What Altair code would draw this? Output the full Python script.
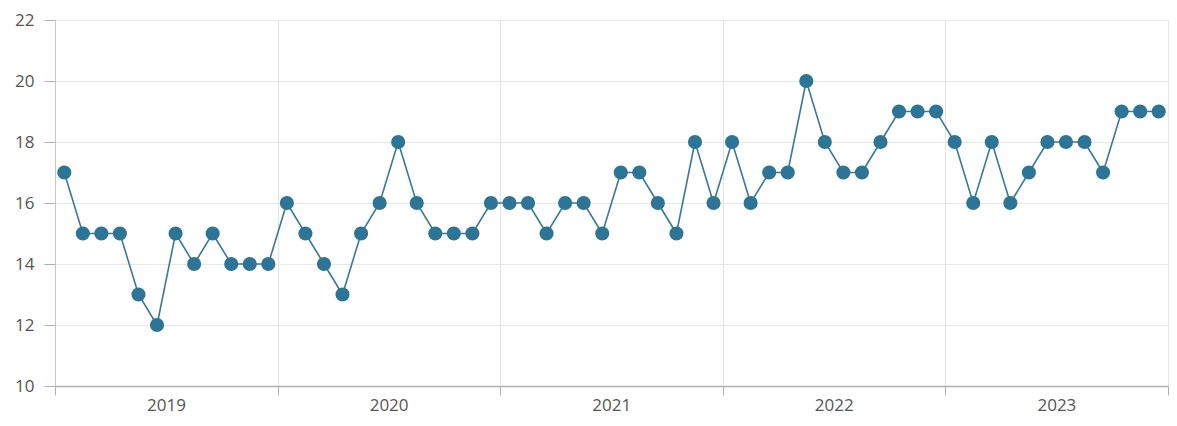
import altair as alt
import pandas as pd

years = [2019, 2020, 2021, 2022, 2023]
values_2019 = [17, 15, 15, 15, 13, 12, 15, 14, 15, 14, 14, 14]
values_2020 = [16, 15, 14, 13, 15, 16, 18, 16, 15, 15, 15, 16]
values_2021 = [16, 16, 15, 16, 16, 15, 17, 17, 16, 15, 18, 16]
values_2022 = [18, 16, 17, 17, 20, 18, 17, 17, 18, 19, 19, 19]
values_2023 = [18, 16, 18, 16, 17, 18, 18, 18, 17, 19, 19, 19]
year_ticks = [0, 12, 24, 36, 48, 60]
y_ticks = [10, 12, 14, 16, 18, 20, 22]

all_vals = values_2019 + values_2020 + values_2021 + values_2022 + values_2023
rows = []
for i, v in enumerate(all_vals):
    rows.append({"pos": i + 0.5, "year": years[i // 12], "month": i % 12 + 1, "value": v})
df = pd.DataFrame(rows)

COLOR = "#2c7597"
FONT = "Open Sans"

x_enc = alt.X(
    "pos:Q",
    scale=alt.Scale(domain=[0, 60], nice=False, zero=False),
    axis=alt.Axis(
        values=year_ticks,
        labelExpr="datum.value < 60 ? toString(2019 + datum.value / 12) : ''",
        labelOffset=111,
        labelFlush=False,
        labelOverlap=False,
        labelBound=False,
        title=None,
        grid=True,
        gridColor="#e3e3e3",
        tickColor="#b0b0b0",
        tickSize=9,
        domainColor="#b0b0b0",
        domainWidth=1.5,
        labelPadding=2,
    ),
)
y_enc = alt.Y(
    "value:Q",
    scale=alt.Scale(domain=[10, 22], nice=False, zero=False),
    axis=alt.Axis(
        values=y_ticks,
        title=None,
        grid=True,
        gridColor="#e8e8e8",
        tickColor="#b0b0b0",
        tickSize=11,
        domainColor="#c8c8c8",
        labelPadding=10,
    ),
)

base = alt.Chart(df).encode(x=x_enc, y=y_enc)
line = base.mark_line(color="#3a7899", strokeWidth=1.6)
points = base.mark_point(filled=True, size=200, color=COLOR, opacity=1)

chart = (
    alt.layer(line, points)
    .properties(
        width=1113,
        height=366,
        autosize=alt.AutoSizeParams(type="none"),
        padding={"left": 47, "top": 12, "right": 1, "bottom": 32},
    )
    .configure_view(stroke=None)
    .configure_axis(
        labelFont=FONT,
        labelFontSize=17,
        labelColor="#555555",
    )
)

chart.save("out.html", embed_options={"renderer": "svg", "actions": False})
